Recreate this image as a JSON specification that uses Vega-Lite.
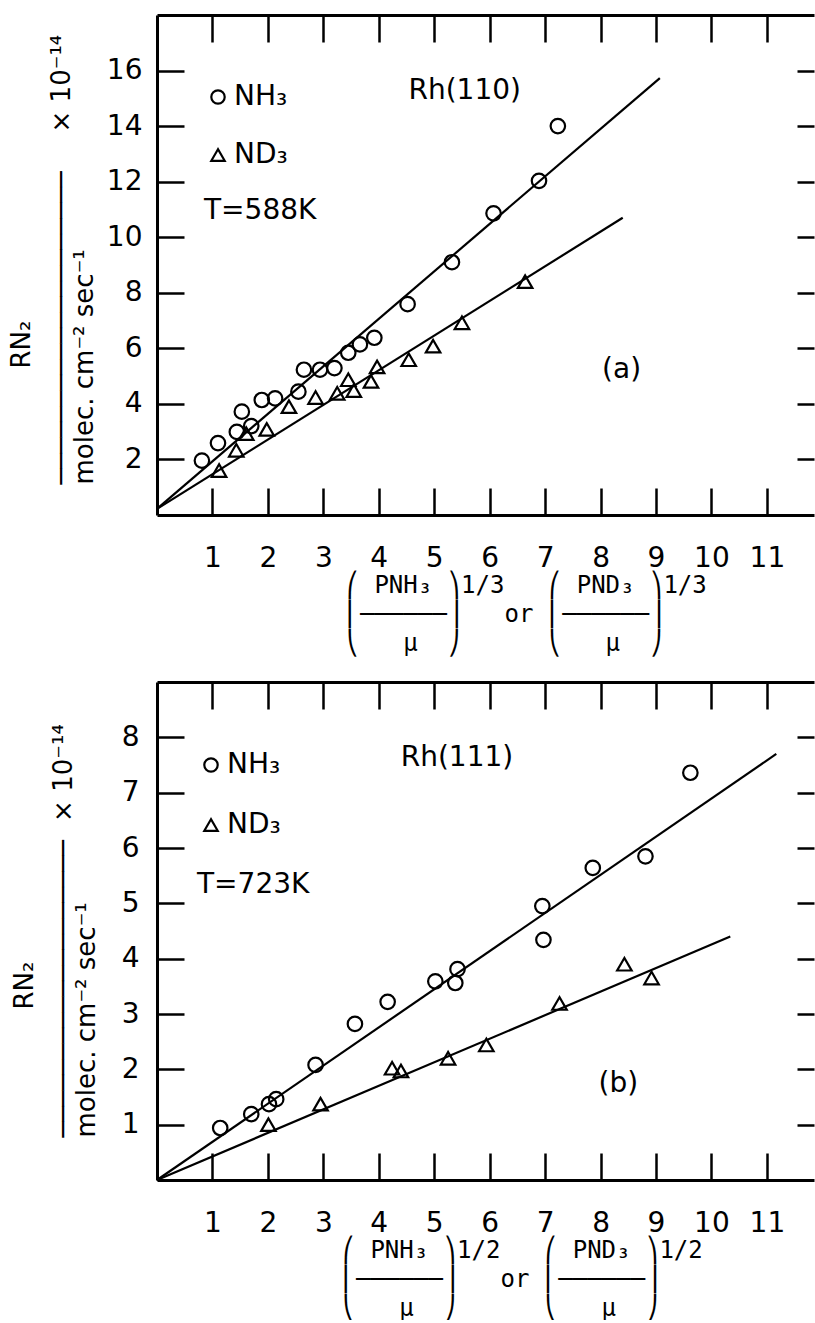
{
  "$schema": "https://vega.github.io/schema/vega-lite/v6.json",
  "background": "white",
  "padding": {"left": 8, "top": 13, "right": 0, "bottom": 0},
  "config": {
    "view": {"stroke": null},
    "font": "DejaVu Sans",
    "axis": {
      "grid": false,
      "domainColor": "black",
      "domainWidth": 3,
      "tickColor": "black",
      "tickWidth": 2.5,
      "tickSize": -27,
      "labelColor": "black",
      "labelFont": "DejaVu Sans",
      "labelFontSize": 28,
      "labelFlush": false,
      "titleColor": "black",
      "titleFontWeight": "normal"
    }
  },
  "datasets": {
    "points": [
      {"panel": "a", "series": "NH₃", "x": 0.81, "y": 1.96},
      {"panel": "a", "series": "NH₃", "x": 1.10, "y": 2.59},
      {"panel": "a", "series": "NH₃", "x": 1.44, "y": 2.99},
      {"panel": "a", "series": "NH₃", "x": 1.53, "y": 3.72},
      {"panel": "a", "series": "NH₃", "x": 1.70, "y": 3.20},
      {"panel": "a", "series": "NH₃", "x": 1.89, "y": 4.14},
      {"panel": "a", "series": "NH₃", "x": 2.13, "y": 4.20},
      {"panel": "a", "series": "NH₃", "x": 2.55, "y": 4.44},
      {"panel": "a", "series": "NH₃", "x": 2.65, "y": 5.23},
      {"panel": "a", "series": "NH₃", "x": 2.94, "y": 5.23},
      {"panel": "a", "series": "NH₃", "x": 3.20, "y": 5.29},
      {"panel": "a", "series": "NH₃", "x": 3.45, "y": 5.84},
      {"panel": "a", "series": "NH₃", "x": 3.66, "y": 6.14},
      {"panel": "a", "series": "NH₃", "x": 3.92, "y": 6.38},
      {"panel": "a", "series": "NH₃", "x": 4.52, "y": 7.59},
      {"panel": "a", "series": "NH₃", "x": 5.32, "y": 9.10},
      {"panel": "a", "series": "NH₃", "x": 6.07, "y": 10.86},
      {"panel": "a", "series": "NH₃", "x": 6.89, "y": 12.03},
      {"panel": "a", "series": "NH₃", "x": 7.23, "y": 14.0},
      {"panel": "a", "series": "ND₃", "x": 1.12, "y": 1.60},
      {"panel": "a", "series": "ND₃", "x": 1.43, "y": 2.33},
      {"panel": "a", "series": "ND₃", "x": 1.61, "y": 2.93},
      {"panel": "a", "series": "ND₃", "x": 1.98, "y": 3.08},
      {"panel": "a", "series": "ND₃", "x": 2.38, "y": 3.90},
      {"panel": "a", "series": "ND₃", "x": 2.86, "y": 4.23},
      {"panel": "a", "series": "ND₃", "x": 3.25, "y": 4.38},
      {"panel": "a", "series": "ND₃", "x": 3.45, "y": 4.87},
      {"panel": "a", "series": "ND₃", "x": 3.55, "y": 4.48},
      {"panel": "a", "series": "ND₃", "x": 3.86, "y": 4.81},
      {"panel": "a", "series": "ND₃", "x": 3.97, "y": 5.33},
      {"panel": "a", "series": "ND₃", "x": 4.54, "y": 5.59},
      {"panel": "a", "series": "ND₃", "x": 4.98, "y": 6.08},
      {"panel": "a", "series": "ND₃", "x": 5.50, "y": 6.92},
      {"panel": "a", "series": "ND₃", "x": 6.64, "y": 8.40},
      {"panel": "b", "series": "NH₃", "x": 1.14, "y": 0.94},
      {"panel": "b", "series": "NH₃", "x": 1.70, "y": 1.19},
      {"panel": "b", "series": "NH₃", "x": 2.02, "y": 1.37},
      {"panel": "b", "series": "NH₃", "x": 2.15, "y": 1.46},
      {"panel": "b", "series": "NH₃", "x": 2.86, "y": 2.08},
      {"panel": "b", "series": "NH₃", "x": 3.57, "y": 2.82},
      {"panel": "b", "series": "NH₃", "x": 4.16, "y": 3.22},
      {"panel": "b", "series": "NH₃", "x": 5.02, "y": 3.59},
      {"panel": "b", "series": "NH₃", "x": 5.38, "y": 3.56},
      {"panel": "b", "series": "NH₃", "x": 5.42, "y": 3.81},
      {"panel": "b", "series": "NH₃", "x": 6.95, "y": 4.95},
      {"panel": "b", "series": "NH₃", "x": 6.97, "y": 4.34},
      {"panel": "b", "series": "NH₃", "x": 7.86, "y": 5.64},
      {"panel": "b", "series": "NH₃", "x": 8.81, "y": 5.85},
      {"panel": "b", "series": "NH₃", "x": 9.62, "y": 7.36},
      {"panel": "b", "series": "ND₃", "x": 2.01, "y": 1.00},
      {"panel": "b", "series": "ND₃", "x": 2.95, "y": 1.37},
      {"panel": "b", "series": "ND₃", "x": 4.24, "y": 2.02},
      {"panel": "b", "series": "ND₃", "x": 4.40, "y": 1.97},
      {"panel": "b", "series": "ND₃", "x": 5.25, "y": 2.20},
      {"panel": "b", "series": "ND₃", "x": 5.94, "y": 2.44},
      {"panel": "b", "series": "ND₃", "x": 7.26, "y": 3.19},
      {"panel": "b", "series": "ND₃", "x": 8.43, "y": 3.90},
      {"panel": "b", "series": "ND₃", "x": 8.92, "y": 3.65}
    ],
    "fits": [
      {"panel": "a", "series": "NH₃", "x": 0, "y": 0.22},
      {"panel": "a", "series": "NH₃", "x": 9.07, "y": 15.73},
      {"panel": "a", "series": "ND₃", "x": 0, "y": 0.22},
      {"panel": "a", "series": "ND₃", "x": 8.40, "y": 10.70},
      {"panel": "b", "series": "NH₃", "x": 0, "y": 0},
      {"panel": "b", "series": "NH₃", "x": 11.17, "y": 7.70},
      {"panel": "b", "series": "ND₃", "x": 0, "y": 0},
      {"panel": "b", "series": "ND₃", "x": 10.34, "y": 4.40}
    ]
  },
  "spacing": 167,
  "bounds": "flush",
  "resolve": {
    "scale": {"x": "independent", "y": "independent", "shape": "independent"},
    "legend": {"shape": "independent"}
  },
  "vconcat": [
    {
      "width": 657,
      "height": 500,
      "resolve": {"axis": {"x": "independent", "y": "independent"}},
      "layer": [
        {
          "data": {"name": "fits"},
          "transform": [{"filter": "datum.panel == 'a'"}],
          "mark": {"type": "line", "color": "black", "strokeWidth": 2.2},
          "encoding": {
            "x": {"field": "x", "type": "quantitative", "scale": {"domain": [0, 11.85], "nice": false, "zero": false},
              "axis": {"orient": "top", "values": [1,2,3,4,5,6,7,8,9,10,11], "labels": false, "title": null}},
            "y": {"field": "y", "type": "quantitative", "scale": {"domain": [0, 18], "nice": false},
              "axis": {"orient": "right", "values": [2,4,6,8,10,12,14,16], "labels": false, "domain": false, "tickSize": -17,
                "title": "RN₂", "titleFont": "DejaVu Sans", "titleFontSize": 26, "titleAngle": -90, "titleAlign": "left", "titleBaseline": "alphabetic", "titleX": -785, "titleY": 353}},
            "detail": {"field": "series"}
          }
        },
        {
          "data": {"name": "points"},
          "transform": [{"filter": "datum.panel == 'a'"}],
          "mark": {"type": "point", "filled": false, "color": "black", "strokeWidth": 2.2, "size": 210, "opacity": 1},
          "encoding": {
            "x": {"field": "x", "type": "quantitative", "scale": {"domain": [0, 11.85], "nice": false, "zero": false},
              "axis": {"orient": "bottom", "values": [1,2,3,4,5,6,7,8,9,10,11], "labelPadding": 56,
                "title": ["⎛\u00a0PNH₃\u00a0⎞1/3\u00a0\u00a0\u00a0⎛\u00a0PND₃\u00a0⎞1/3", "⎜──────⎟\u00a0\u00a0\u00a0or\u00a0⎜──────⎟", "⎝\u00a0\u00a0\u00a0μ\u00a0\u00a0⎠\u00a0\u00a0\u00a0\u00a0\u00a0\u00a0⎝\u00a0\u00a0\u00a0μ\u00a0\u00a0⎠"],
                "titleFont": "DejaVu Sans Mono", "titleFontSize": 24, "titleLineHeight": 29, "titleAlign": "left", "titleBaseline": "top", "titleX": 188, "titleY": 58}},
            "y": {"field": "y", "type": "quantitative", "scale": {"domain": [0, 18], "nice": false},
              "axis": {"orient": "left", "values": [2,4,6,8,10,12,14,16], "labelPadding": 42,
                "title": ["────────────────────\u2003\u2002× 10⁻¹⁴", "\u2002molec. cm⁻² sec⁻¹"],
                "titleFont": "DejaVu Sans", "titleFontSize": 26, "titleLineHeight": 23, "titleAngle": -90, "titleAlign": "left", "titleBaseline": "alphabetic", "titleX": -88, "titleY": 469}},
            "shape": {"field": "series", "type": "nominal", "scale": {"domain": ["NH₃", "ND₃"], "range": ["circle", "triangle-up"]},
              "legend": {"title": "T=588K", "orient": "none", "legendX": 47, "legendY": 68, "direction": "vertical",
                "titleOrient": "bottom", "titleAnchor": "start", "titleAlign": "left", "titleFont": "DejaVu Sans", "titleFontSize": 28, "titleFontWeight": "normal", "titleColor": "black", "titlePadding": 28,
                "labelFont": "DejaVu Sans", "labelFontSize": 28, "labelColor": "black", "labelOffset": 2, "rowPadding": 30, "labelLimit": 0,
                "symbolSize": 180, "symbolStrokeColor": "black", "symbolStrokeWidth": 2.2, "symbolFillColor": "transparent", "symbolOpacity": 1}}
          }
        },
        {
          "data": {"values": [{}]},
          "mark": {"type": "text", "text": "Rh(110)", "font": "DejaVu Sans", "fontSize": 28, "align": "center", "baseline": "alphabetic", "color": "black"},
          "encoding": {
            "x": {"datum": 5.55, "type": "quantitative", "axis": null},
            "y": {"datum": 14.98, "type": "quantitative", "axis": null}
          }
        },
        {
          "data": {"values": [{}]},
          "mark": {"type": "text", "text": "(a)", "font": "DejaVu Sans", "fontSize": 28, "align": "center", "baseline": "middle", "color": "black"},
          "encoding": {
            "x": {"datum": 8.38, "type": "quantitative", "axis": null},
            "y": {"datum": 5.23, "type": "quantitative", "axis": null}
          }
        }
      ]
    },
    {
      "width": 657,
      "height": 498,
      "resolve": {"axis": {"x": "independent", "y": "independent"}},
      "layer": [
        {
          "data": {"name": "fits"},
          "transform": [{"filter": "datum.panel == 'b'"}],
          "mark": {"type": "line", "color": "black", "strokeWidth": 2.2},
          "encoding": {
            "x": {"field": "x", "type": "quantitative", "scale": {"domain": [0, 11.85], "nice": false, "zero": false},
              "axis": {"orient": "top", "values": [1,2,3,4,5,6,7,8,9,10,11], "labels": false, "title": null}},
            "y": {"field": "y", "type": "quantitative", "scale": {"domain": [0, 9], "nice": false},
              "axis": {"orient": "right", "values": [1,2,3,4,5,6,7,8], "labels": false, "domain": false, "tickSize": -17,
                "title": "RN₂", "titleFont": "DejaVu Sans", "titleFontSize": 26, "titleAngle": -90, "titleAlign": "left", "titleBaseline": "alphabetic", "titleX": -782, "titleY": 327}},
            "detail": {"field": "series"}
          }
        },
        {
          "data": {"name": "points"},
          "transform": [{"filter": "datum.panel == 'b'"}],
          "mark": {"type": "point", "filled": false, "color": "black", "strokeWidth": 2.2, "size": 210, "opacity": 1},
          "encoding": {
            "x": {"field": "x", "type": "quantitative", "scale": {"domain": [0, 11.85], "nice": false, "zero": false},
              "axis": {"orient": "bottom", "values": [1,2,3,4,5,6,7,8,9,10,11], "labelPadding": 56,
                "title": ["⎛\u00a0PNH₃\u00a0⎞1/2\u00a0\u00a0\u00a0⎛\u00a0PND₃\u00a0⎞1/2", "⎜──────⎟\u00a0\u00a0\u00a0or\u00a0⎜──────⎟", "⎝\u00a0\u00a0\u00a0μ\u00a0\u00a0⎠\u00a0\u00a0\u00a0\u00a0\u00a0\u00a0⎝\u00a0\u00a0\u00a0μ\u00a0\u00a0⎠"],
                "titleFont": "DejaVu Sans Mono", "titleFontSize": 24, "titleLineHeight": 29, "titleAlign": "left", "titleBaseline": "top", "titleX": 184, "titleY": 58}},
            "y": {"field": "y", "type": "quantitative", "scale": {"domain": [0, 9], "nice": false},
              "axis": {"orient": "left", "values": [1,2,3,4,5,6,7,8], "labelPadding": 45,
                "title": ["───────────────────\u2002\u2009× 10⁻¹⁴", "\u2002\u2009\u2009molec. cm⁻² sec⁻¹"],
                "titleFont": "DejaVu Sans", "titleFontSize": 26, "titleLineHeight": 23, "titleAngle": -90, "titleAlign": "left", "titleBaseline": "alphabetic", "titleX": -86, "titleY": 455}},
            "shape": {"field": "series", "type": "nominal", "scale": {"domain": ["NH₃", "ND₃"], "range": ["circle", "triangle-up"]},
              "legend": {"title": "T=723K", "orient": "none", "legendX": 40, "legendY": 69, "direction": "vertical",
                "titleOrient": "bottom", "titleAnchor": "start", "titleAlign": "left", "titleFont": "DejaVu Sans", "titleFontSize": 28, "titleFontWeight": "normal", "titleColor": "black", "titlePadding": 32,
                "labelFont": "DejaVu Sans", "labelFontSize": 28, "labelColor": "black", "labelOffset": 2, "rowPadding": 32, "labelLimit": 0,
                "symbolSize": 180, "symbolStrokeColor": "black", "symbolStrokeWidth": 2.2, "symbolFillColor": "transparent", "symbolOpacity": 1}}
          }
        },
        {
          "data": {"values": [{}]},
          "mark": {"type": "text", "text": "Rh(111)", "font": "DejaVu Sans", "fontSize": 28, "align": "center", "baseline": "alphabetic", "color": "black"},
          "encoding": {
            "x": {"datum": 5.41, "type": "quantitative", "axis": null},
            "y": {"datum": 7.48, "type": "quantitative", "axis": null}
          }
        },
        {
          "data": {"values": [{}]},
          "mark": {"type": "text", "text": "(b)", "font": "DejaVu Sans", "fontSize": 28, "align": "center", "baseline": "middle", "color": "black"},
          "encoding": {
            "x": {"datum": 8.32, "type": "quantitative", "axis": null},
            "y": {"datum": 1.73, "type": "quantitative", "axis": null}
          }
        }
      ]
    }
  ]
}
